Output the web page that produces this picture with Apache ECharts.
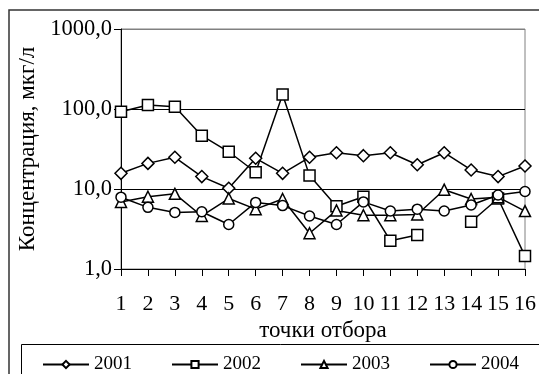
<!DOCTYPE html>
<html>
<head>
<meta charset="utf-8">
<script src="https://cdn.jsdelivr.net/npm/echarts@6/dist/echarts.min.js"></script>
<style>
html,body{margin:0;padding:0;background:#fff;}
#c{width:539px;height:374px;}
</style>
</head>
<body>
<div id="c"></div>
<script>
const categories = ['1','2','3','4','5','6','7','8','9','10','11','12','13','14','15','16'];
const s2001 = [15.7, 20.9, 24.9, 14.3, 10.2, 24.2, 15.7, 24.9, 28.4, 26.1, 28.4, 20.1, 28.4, 17.3, 14.3, 19.4];
const s2002 = [92.5, 112, 107, 46.4, 29.2, 16.2, 152, 14.7, 6.1, 8.0, 2.26, 2.66, null, 3.9, 7.6, 1.45];
const s2003 = [6.9, 8.0, 8.7, 4.6, 7.6, 5.6, 7.5, 2.8, 5.4, 4.7, 4.7, 4.8, 9.8, 7.5, 7.9, 5.3];
const s2004 = [7.9, 5.9, 5.1, 5.2, 3.6, 6.8, 6.2, 4.6, 3.6, 6.9, 5.3, 5.6, 5.3, 6.3, 8.4, 9.3];
const seriesNames = ['2001','2002','2003','2004'];
const yTicks = [1, 10, 100, 1000];

const FONT = 'Liberation Serif';
const chart = echarts.init(document.getElementById('c'));
function mk(name, data, symbol, size){
  return {
    name: name, type: 'line', data: data, symbol: symbol, symbolSize: size,
    showAllSymbol: true, connectNulls: false, animation: false,
    lineStyle: {color: '#000', width: 1.5},
    itemStyle: {color: '#fff', borderColor: '#000', borderWidth: 1.5}
  };
}
chart.setOption({
  animation: false,
  backgroundColor: '#fff',
  grid: {left: 121, top: 29, right: 6, bottom: 105, show: true, borderColor: '#808080', borderWidth: 1, backgroundColor: 'transparent'},
  graphic: [
    {type: 'rect', shape: {x: 9, y: 10, width: 560, height: 400}, style: {fill: 'none', stroke: '#333', lineWidth: 1.5}, z: -1},
    {type: 'rect', shape: {x: 21.5, y: 344.5, width: 560, height: 60}, style: {fill: 'none', stroke: '#000', lineWidth: 1}, z: -1}
  ],
  xAxis: {
    type: 'category', data: categories, boundaryGap: false,
    name: 'точки отбора', nameLocation: 'middle', nameGap: 46,
    nameTextStyle: {fontFamily: FONT, fontSize: 23, color: '#000'},
    axisLine: {lineStyle: {color: '#000', width: 1}},
    axisTick: {show: true, alignWithLabel: true, length: 7, inside: false, lineStyle: {color: '#000'}},
    axisLabel: {fontFamily: FONT, fontSize: 22, color: '#000', margin: 24, interval: 0, showMaxLabel: true},
    splitLine: {show: false}
  },
  yAxis: {
    type: 'log', logBase: 10, min: 1, max: 1000,
    name: 'Концентрация, мкг/л', nameLocation: 'middle', nameGap: 81,
    nameTextStyle: {fontFamily: FONT, fontSize: 23, color: '#000'},
    axisLine: {show: true, lineStyle: {color: '#000', width: 1}},
    axisTick: {show: true, length: 7, lineStyle: {color: '#000'}},
    axisLabel: {fontFamily: FONT, fontSize: 22.5, color: '#000', margin: 9,
      formatter: function(v){ return yTicks.indexOf(Math.round(v)) >= 0 ? v.toFixed(1).replace('.', ',') : ''; }},
    splitLine: {show: true, lineStyle: {color: ['#000', '#000', '#000', '#808080'], width: 1}}
  },
  legend: {
    left: 37, top: 350, itemWidth: 46, itemHeight: 9, itemGap: 39,
    textStyle: {fontFamily: FONT, fontSize: 19, color: '#000'},
    data: seriesNames
  },
  series: [
    mk(seriesNames[0], s2001, 'diamond', 12),
    mk(seriesNames[1], s2002, 'rect', 11),
    mk(seriesNames[2], s2003, 'triangle', 11),
    mk(seriesNames[3], s2004, 'circle', 10)
  ]
});
</script>
</body>
</html>
